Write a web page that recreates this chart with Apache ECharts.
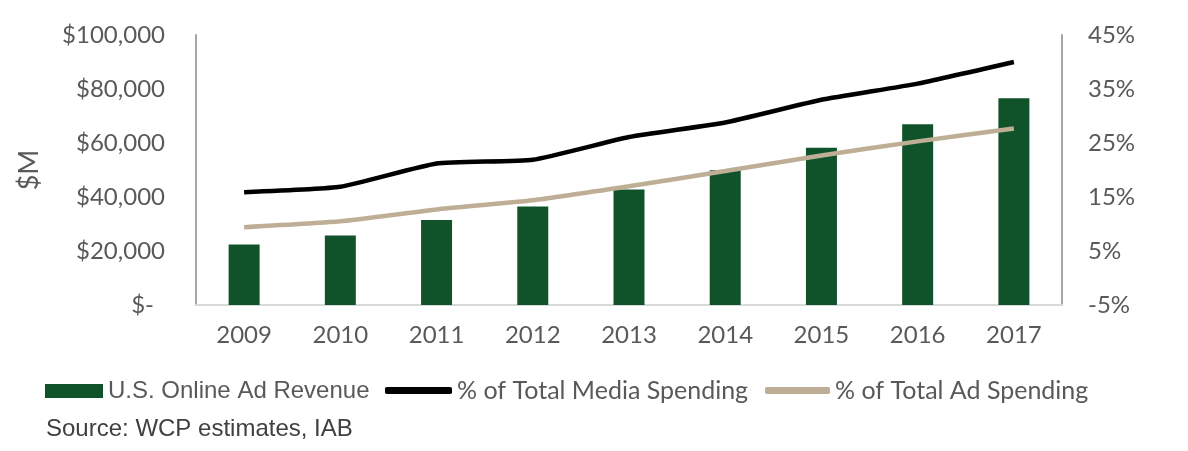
<!DOCTYPE html>
<html><head><meta charset="utf-8">
<script src="https://cdn.jsdelivr.net/npm/echarts@6/dist/echarts.min.js"></script>
<style>html,body{margin:0;padding:0;background:#fff}#c{width:1188px;height:451px}</style>
</head><body><div id="c"></div>
<script>
const categories = ['2009','2010','2011','2012','2013','2014','2015','2016','2017'];
const adRevenue = [22400, 25700, 31500, 36500, 42800, 49900, 58200, 66900, 76600];
const pctMedia = [15.9, 16.9, 21.2, 21.9, 26.1, 28.8, 33.0, 36.0, 40.0];
const pctAd = [9.4, 10.5, 12.7, 14.4, 17.0, 19.8, 22.7, 25.3, 27.7];
const seriesNames = ['U.S. Online Ad Revenue', '% of Total Media Spending', '% of Total Ad Spending'];
const sourceText = 'Source: WCP estimates, IAB';

const font = 'Lato, "Open Sans", sans-serif';
const arial = '"Liberation Sans", Arial, sans-serif';
const txt = '#595959';
const chart = echarts.init(document.getElementById('c'), null, {renderer:'canvas'});
function money(v){
  if (v === 0) return '{z|$-}';
  return '$' + v.toString().replace(/\B(?=(\d{3})+(?!\d))/g, ',');
}
const ts = {color: txt, fontSize: 25, fontFamily: font};
chart.setOption({
  animation:false,
  grid:{left:196, right:126, top:35, bottom:146},
  legend:[
    {left:40, top:374, itemWidth:58, itemHeight:14, textStyle:{color:txt, fontSize:24, fontFamily:arial}, selectedMode:false, data:[{name:seriesNames[0], icon:'rect'}]},
    {left:380, top:373, itemWidth:67, itemHeight:7, textStyle:ts, selectedMode:false, data:[{name:seriesNames[1], icon:'roundRect'}]},
    {left:760, top:373, itemWidth:65, itemHeight:7, textStyle:ts, selectedMode:false, data:[{name:seriesNames[2], icon:'roundRect'}]}
  ],
  graphic:[{type:'text', left:46, top:417, style:{text:sourceText, fill:'#404040', font:'24px "Liberation Sans", Arial, sans-serif'}}],
  xAxis:{type:'category', data:categories,
    axisLine:{lineStyle:{color:'#d9d9d9', width:2}}, axisTick:{show:false},
    axisLabel:{color:txt, fontSize:24, fontFamily:font, margin:18}},
  yAxis:[
    {type:'value', min:0, max:100000, interval:20000, name:'$M', nameLocation:'middle', nameGap:153, nameRotate:90,
     nameTextStyle:{color:txt, fontSize:27, fontFamily:font},
     axisLine:{show:true, lineStyle:{color:'#a6a6a6', width:2}}, axisTick:{show:false}, splitLine:{show:false},
     axisLabel:{color:txt, fontSize:24, fontFamily:font, margin:31, formatter:money, rich:{z:{color:txt, fontSize:24, fontFamily:font, padding:[0,11,0,0]}}}},
    {type:'value', min:-5, max:45, interval:10, position:'right',
     axisLine:{show:true, lineStyle:{color:'#a6a6a6', width:2}}, axisTick:{show:false}, splitLine:{show:false},
     axisLabel:{color:txt, fontSize:24, fontFamily:font, margin:26, formatter:'{value}%'}}
  ],
  series:[
    {name:seriesNames[0], type:'bar', data:adRevenue, barWidth:31, itemStyle:{color:'#10532a'}},
    {name:seriesNames[1], type:'line', yAxisIndex:1, data:pctMedia, symbol:'none', smooth:0.15,
     lineStyle:{color:'#000000', width:4.5}, itemStyle:{color:'#000000'}},
    {name:seriesNames[2], type:'line', yAxisIndex:1, data:pctAd, symbol:'none', smooth:0.15,
     lineStyle:{color:'#bfae96', width:4.5}, itemStyle:{color:'#bfae96'}}
  ]
});
</script></body></html>
